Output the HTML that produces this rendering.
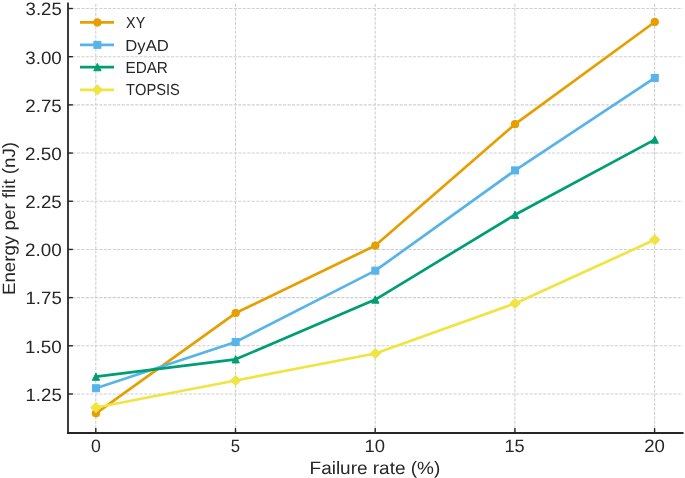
<!DOCTYPE html>
<html><head><meta charset="utf-8"><style>
html,body{margin:0;padding:0;background:#fff;}
body{will-change:transform;}
svg{display:block;font-family:"Liberation Sans", sans-serif;font-kerning:none;}
text{-webkit-font-smoothing:antialiased;text-rendering:geometricPrecision;}
</style></head><body>
<svg width="685" height="478" viewBox="0 0 685 478">
<rect width="685" height="478" fill="#fff"/>
<g stroke="#d0d0d0" stroke-width="1.1" stroke-dasharray="3.13,1.353"><line x1="95.80" y1="432.84" x2="95.80" y2="2.43"/><line x1="235.50" y1="432.84" x2="235.50" y2="2.43"/><line x1="375.20" y1="432.84" x2="375.20" y2="2.43"/><line x1="514.90" y1="432.84" x2="514.90" y2="2.43"/><line x1="654.60" y1="432.84" x2="654.60" y2="2.43"/><line x1="67.86" y1="394.00" x2="682.54" y2="394.00"/><line x1="67.86" y1="345.81" x2="682.54" y2="345.81"/><line x1="67.86" y1="297.62" x2="682.54" y2="297.62"/><line x1="67.86" y1="249.44" x2="682.54" y2="249.44"/><line x1="67.86" y1="201.25" x2="682.54" y2="201.25"/><line x1="67.86" y1="153.06" x2="682.54" y2="153.06"/><line x1="67.86" y1="104.88" x2="682.54" y2="104.88"/><line x1="67.86" y1="56.69" x2="682.54" y2="56.69"/><line x1="67.86" y1="8.50" x2="682.54" y2="8.50"/></g>
<g transform="translate(0.15,0)">
<polyline points="95.80,413.28 235.50,313.05 375.20,245.58 514.90,124.15 654.60,21.99" fill="none" stroke="#E69F00" stroke-width="2.7" stroke-linejoin="round" stroke-linecap="butt"/>
<circle cx="95.80" cy="413.28" r="3.80" fill="#E69F00" stroke="#E69F00" stroke-width="1.0"/><circle cx="235.50" cy="313.05" r="3.80" fill="#E69F00" stroke="#E69F00" stroke-width="1.0"/><circle cx="375.20" cy="245.58" r="3.80" fill="#E69F00" stroke="#E69F00" stroke-width="1.0"/><circle cx="514.90" cy="124.15" r="3.80" fill="#E69F00" stroke="#E69F00" stroke-width="1.0"/><circle cx="654.60" cy="21.99" r="3.80" fill="#E69F00" stroke="#E69F00" stroke-width="1.0"/>
<polyline points="95.80,388.22 235.50,341.96 375.20,270.64 514.90,170.41 654.60,77.89" fill="none" stroke="#56B4E9" stroke-width="2.7" stroke-linejoin="round" stroke-linecap="butt"/>
<rect x="92.30" y="384.72" width="7.00" height="7.00" fill="#56B4E9" stroke="#56B4E9" stroke-width="1.0" stroke-linejoin="miter"/><rect x="232.00" y="338.46" width="7.00" height="7.00" fill="#56B4E9" stroke="#56B4E9" stroke-width="1.0" stroke-linejoin="miter"/><rect x="371.70" y="267.14" width="7.00" height="7.00" fill="#56B4E9" stroke="#56B4E9" stroke-width="1.0" stroke-linejoin="miter"/><rect x="511.40" y="166.91" width="7.00" height="7.00" fill="#56B4E9" stroke="#56B4E9" stroke-width="1.0" stroke-linejoin="miter"/><rect x="651.10" y="74.39" width="7.00" height="7.00" fill="#56B4E9" stroke="#56B4E9" stroke-width="1.0" stroke-linejoin="miter"/>
<polyline points="95.80,376.65 235.50,359.31 375.20,299.55 514.90,214.74 654.60,139.57" fill="none" stroke="#009E73" stroke-width="2.7" stroke-linejoin="round" stroke-linecap="butt"/>
<path d="M95.80,373.00 L99.45,380.30 L92.15,380.30 Z" fill="#009E73" stroke="#009E73" stroke-width="1.0" stroke-linejoin="miter"/><path d="M235.50,355.66 L239.15,362.95 L231.85,362.95 Z" fill="#009E73" stroke="#009E73" stroke-width="1.0" stroke-linejoin="miter"/><path d="M375.20,295.90 L378.85,303.20 L371.55,303.20 Z" fill="#009E73" stroke="#009E73" stroke-width="1.0" stroke-linejoin="miter"/><path d="M514.90,211.09 L518.55,218.39 L511.25,218.39 Z" fill="#009E73" stroke="#009E73" stroke-width="1.0" stroke-linejoin="miter"/><path d="M654.60,135.92 L658.25,143.22 L650.95,143.22 Z" fill="#009E73" stroke="#009E73" stroke-width="1.0" stroke-linejoin="miter"/>
<polyline points="95.80,407.49 235.50,380.51 375.20,353.52 514.90,303.41 654.60,239.80" fill="none" stroke="#F0E442" stroke-width="2.7" stroke-linejoin="round" stroke-linecap="butt"/>
<path d="M95.80,402.33 L100.96,407.49 L95.80,412.65 L90.64,407.49 Z" fill="#F0E442" stroke="#F0E442" stroke-width="1.0" stroke-linejoin="miter"/><path d="M235.50,375.35 L240.66,380.51 L235.50,385.67 L230.34,380.51 Z" fill="#F0E442" stroke="#F0E442" stroke-width="1.0" stroke-linejoin="miter"/><path d="M375.20,348.36 L380.36,353.52 L375.20,358.68 L370.04,353.52 Z" fill="#F0E442" stroke="#F0E442" stroke-width="1.0" stroke-linejoin="miter"/><path d="M514.90,298.25 L520.06,303.41 L514.90,308.57 L509.74,303.41 Z" fill="#F0E442" stroke="#F0E442" stroke-width="1.0" stroke-linejoin="miter"/><path d="M654.60,234.64 L659.76,239.80 L654.60,244.96 L649.44,239.80 Z" fill="#F0E442" stroke="#F0E442" stroke-width="1.0" stroke-linejoin="miter"/>
</g>
<line x1="68.00" y1="2.43" x2="68.00" y2="433.90" stroke="#262626" stroke-width="1.8"/>
<line x1="67.10" y1="433.00" x2="683.54" y2="433.00" stroke="#262626" stroke-width="1.8"/>
<g stroke="#262626" stroke-width="1.4"><line x1="95.80" y1="433.00" x2="95.80" y2="428.10"/><line x1="235.50" y1="433.00" x2="235.50" y2="428.10"/><line x1="375.20" y1="433.00" x2="375.20" y2="428.10"/><line x1="514.90" y1="433.00" x2="514.90" y2="428.10"/><line x1="654.60" y1="433.00" x2="654.60" y2="428.10"/><line x1="68.00" y1="394.00" x2="72.90" y2="394.00"/><line x1="68.00" y1="345.81" x2="72.90" y2="345.81"/><line x1="68.00" y1="297.62" x2="72.90" y2="297.62"/><line x1="68.00" y1="249.44" x2="72.90" y2="249.44"/><line x1="68.00" y1="201.25" x2="72.90" y2="201.25"/><line x1="68.00" y1="153.06" x2="72.90" y2="153.06"/><line x1="68.00" y1="104.88" x2="72.90" y2="104.88"/><line x1="68.00" y1="56.69" x2="72.90" y2="56.69"/><line x1="68.00" y1="8.50" x2="72.90" y2="8.50"/></g>
<g fill="#262626"><text x="90.88" y="452.00" font-size="17.94" textLength="9.85" lengthAdjust="spacingAndGlyphs">0</text><text x="230.87" y="452.00" font-size="17.94" textLength="9.30" lengthAdjust="spacingAndGlyphs">5</text><text x="364.59" y="452.00" font-size="17.94" textLength="20.54" lengthAdjust="spacingAndGlyphs">10</text><text x="504.48" y="452.00" font-size="17.94" textLength="20.21" lengthAdjust="spacingAndGlyphs">15</text><text x="644.15" y="452.00" font-size="17.94" textLength="20.69" lengthAdjust="spacingAndGlyphs">20</text><text x="25.49" y="400.85" font-size="17.94" textLength="36.30" lengthAdjust="spacingAndGlyphs">1.25</text><text x="25.12" y="352.66" font-size="17.94" textLength="36.61" lengthAdjust="spacingAndGlyphs">1.50</text><text x="25.49" y="304.48" font-size="17.94" textLength="36.30" lengthAdjust="spacingAndGlyphs">1.75</text><text x="24.99" y="256.29" font-size="17.94" textLength="36.75" lengthAdjust="spacingAndGlyphs">2.00</text><text x="25.35" y="208.10" font-size="17.94" textLength="36.44" lengthAdjust="spacingAndGlyphs">2.25</text><text x="24.99" y="159.91" font-size="17.94" textLength="36.75" lengthAdjust="spacingAndGlyphs">2.50</text><text x="25.35" y="111.72" font-size="17.94" textLength="36.44" lengthAdjust="spacingAndGlyphs">2.75</text><text x="25.28" y="63.54" font-size="17.94" textLength="36.46" lengthAdjust="spacingAndGlyphs">3.00</text><text x="25.63" y="15.35" font-size="17.94" textLength="36.15" lengthAdjust="spacingAndGlyphs">3.25</text><text x="309.56" y="473.80" font-size="17.81" textLength="130.70" lengthAdjust="spacingAndGlyphs">Failure rate (%)</text></g>
<g fill="#262626" transform="translate(14.75,218.3) rotate(-90)"><text x="-76.79" y="0.00" font-size="17.81" textLength="153.20" lengthAdjust="spacingAndGlyphs">Energy per flit (nJ)</text></g>
<line x1="80.0" y1="22.45" x2="114.0" y2="22.45" stroke="#E69F00" stroke-width="2.7"/>
<circle cx="97.40" cy="22.45" r="3.80" fill="#E69F00" stroke="#E69F00" stroke-width="1.0"/>
<line x1="80.0" y1="44.85" x2="114.0" y2="44.85" stroke="#56B4E9" stroke-width="2.7"/>
<rect x="93.90" y="41.35" width="7.00" height="7.00" fill="#56B4E9" stroke="#56B4E9" stroke-width="1.0" stroke-linejoin="miter"/>
<line x1="80.0" y1="67.10" x2="114.0" y2="67.10" stroke="#009E73" stroke-width="2.7"/>
<path d="M97.40,63.45 L101.05,70.75 L93.75,70.75 Z" fill="#009E73" stroke="#009E73" stroke-width="1.0" stroke-linejoin="miter"/>
<line x1="80.0" y1="89.80" x2="114.0" y2="89.80" stroke="#F0E442" stroke-width="2.7"/>
<path d="M97.40,84.64 L102.56,89.80 L97.40,94.96 L92.24,89.80 Z" fill="#F0E442" stroke="#F0E442" stroke-width="1.0" stroke-linejoin="miter"/>
<g fill="#262626"><text x="126.08" y="28.00" font-size="16.00" textLength="19.14" lengthAdjust="spacingAndGlyphs">XY</text><text x="125.33" y="51.00" font-size="16.00" textLength="43.46" lengthAdjust="spacingAndGlyphs">DyAD</text><text x="125.45" y="73.00" font-size="16.00" textLength="42.46" lengthAdjust="spacingAndGlyphs">EDAR</text><text x="126.07" y="95.00" font-size="16.00" textLength="53.80" lengthAdjust="spacingAndGlyphs">TOPSIS</text></g>
</svg>
</body></html>
